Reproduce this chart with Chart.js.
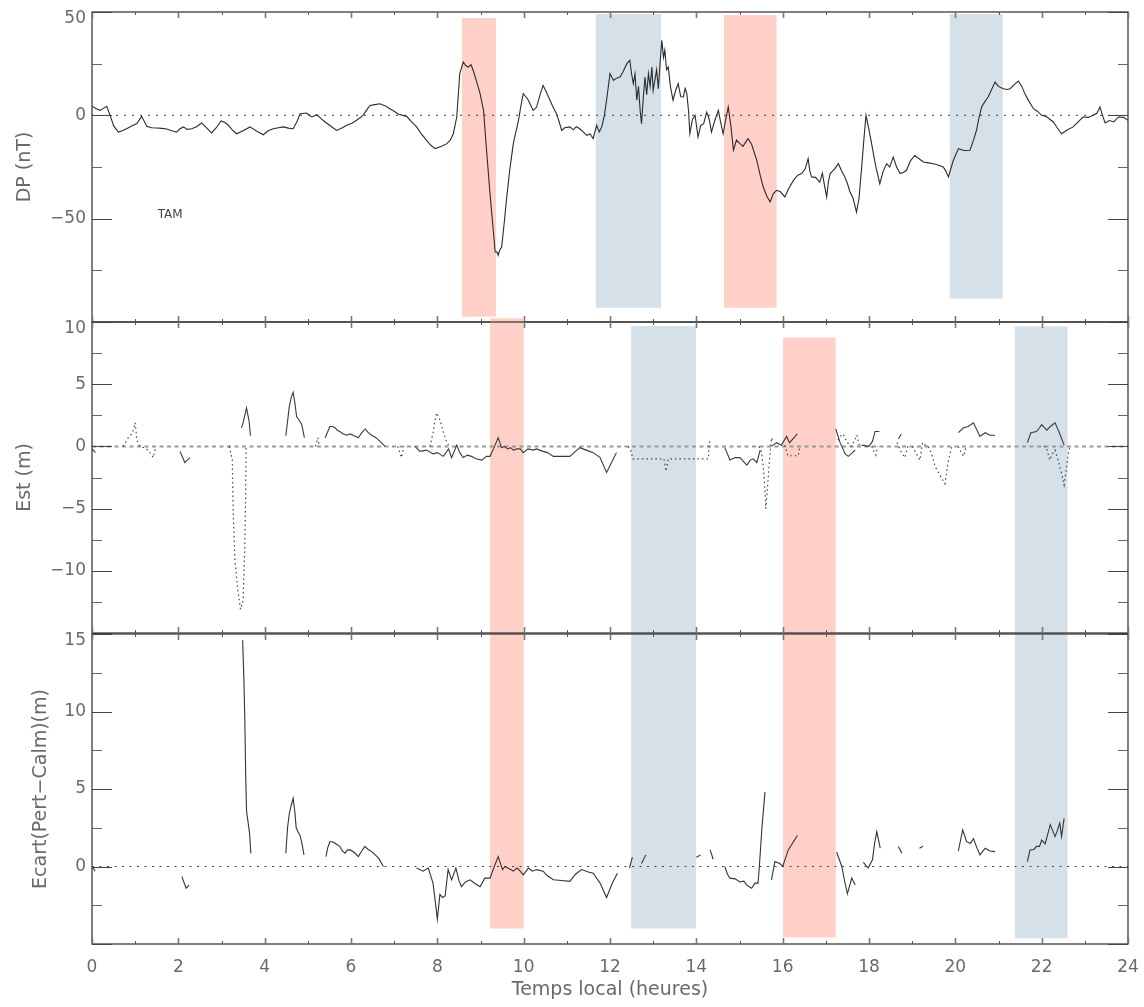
<!DOCTYPE html>
<html>
<head>
<meta charset="utf-8">
<script src="https://cdn.jsdelivr.net/npm/chart.js@4/dist/chart.umd.min.js"></script>
<style>
  html, body { margin: 0; padding: 0; background: #fff; }
  #wrap { position: relative; width: 1144px; height: 1007px; }
  #wrap canvas { position: absolute; left: 0; top: 0; }
</style>
</head>
<body>
<div id="wrap">
  <canvas id="dp" width="1144" height="1007"></canvas>
  <canvas id="est" width="1144" height="1007"></canvas>
  <canvas id="ecart" width="1144" height="1007"></canvas>
</div>
<script>
// ---- data (hours, value); null = gap in the record ----
const dpSeries = [
  [0,4.4],[0.1,3.2],[0.19,2.4],[0.27,3.5],[0.34,4.4],[0.42,0],[0.5,-5],[0.61,-8.1],[0.7,-7.5],[0.8,-6.5],
  [0.92,-5.2],[1.04,-4.0],[1.15,-0.5],[1.27,-5.3],[1.38,-6],[1.5,-6.1],[1.62,-6.3],[1.73,-6.6],[1.85,-7.5],
  [1.96,-8.1],[2.04,-6.5],[2.12,-5.6],[2.2,-6.8],[2.31,-6.5],[2.42,-5.5],[2.54,-3.7],[2.65,-6],[2.77,-8.5],
  [2.88,-6],[2.99,-2.7],[3.08,-3.5],[3.16,-4.8],[3.25,-7],[3.35,-8.9],[3.5,-7.5],[3.66,-5.6],[3.8,-7.5],
  [3.97,-9.4],[4.08,-7.5],[4.2,-6.5],[4.32,-6],[4.43,-5.6],[4.55,-6.2],[4.66,-6.5],[4.75,-3],[4.82,0.8],
  [4.97,1.1],[5.09,-0.8],[5.21,0.3],[5.3,-1.5],[5.4,-3.2],[5.55,-5.5],[5.67,-7.3],[5.8,-6],[5.9,-4.8],
  [6.02,-3.8],[6.13,-2.4],[6.28,0],[6.36,2.5],[6.44,4.8],[6.55,5.2],[6.67,5.6],[6.8,4.5],[6.9,3.2],[7.0,2],
  [7.1,0.5],[7.29,-0.5],[7.4,-3],[7.52,-5.6],[7.63,-9],[7.75,-12.1],[7.85,-14.5],[7.95,-16.1],[8.1,-15],
  [8.22,-13.7],[8.3,-12],[8.37,-8.9],[8.45,-0.8],[8.52,20.2],[8.6,25.8],[8.66,24],[8.72,23.4],[8.78,24.5],
  [8.83,21.8],[8.9,17],[8.99,10.5],[9.07,2.4],[9.14,-16.9],[9.22,-37.9],[9.28,-52],[9.34,-66.1],[9.38,-66],
  [9.41,-67.7],[9.45,-65],[9.49,-63.7],[9.55,-52],[9.6,-41.1],[9.68,-26],[9.76,-13.7],[9.82,-8],[9.88,-2.4],
  [9.94,5],[9.99,10.5],[10.05,9],[10.11,7.3],[10.16,5],[10.22,2.4],[10.3,4.0],[10.38,10],[10.45,14.5],
  [10.53,11],[10.61,7.3],[10.68,4],[10.76,0.8],[10.82,-3],[10.88,-7.3],[10.95,-6],[11.07,-5.6],[11.15,-7],
  [11.22,-5.5],[11.3,-6.5],[11.38,-8],[11.46,-9.7],[11.54,-9],[11.61,-11.3],[11.69,-4.8],[11.75,-8],
  [11.81,-5.6],[11.87,0],[11.92,7.3],[12.0,20.2],[12.08,16.9],[12.15,18],[12.23,18.5],[12.3,21],[12.39,25.0],
  [12.46,26.6],[12.5,20],[12.54,15.3],[12.58,20],[12.62,7.3],[12.66,14],[12.7,2],[12.73,-4.0],[12.77,8],
  [12.81,18.5],[12.85,10],[12.89,20.2],[12.93,14],[12.97,23.4],[13.0,12],[13.04,17.0],[13.08,22],[13.12,12.9],
  [13.16,25],[13.2,36.3],[13.24,28],[13.27,31.5],[13.31,22],[13.35,23.4],[13.4,14],[13.46,7.3],[13.52,12],
  [13.58,15.3],[13.64,9],[13.7,8.9],[13.74,13],[13.78,10.5],[13.82,2],[13.85,-8.9],[13.91,-2],[13.97,0],
  [14.04,-10.5],[14.1,-5],[14.17,-4],[14.24,1.6],[14.3,-2],[14.35,-8.1],[14.42,-3],[14.51,2.4],[14.56,-3],
  [14.62,-8.9],[14.68,-2],[14.74,4.0],[14.8,-5],[14.86,-16.9],[14.93,-12],[15.01,-13.7],[15.08,-15],
  [15.17,-12.1],[15.2,-11.3],[15.28,-14],[15.4,-21.8],[15.48,-29],[15.55,-34.7],[15.63,-39],[15.71,-41.9],
  [15.78,-38],[15.86,-36.3],[15.95,-37],[16.05,-39.5],[16.15,-35],[16.25,-31.5],[16.35,-29],[16.44,-28.2],
  [16.52,-26],[16.59,-21.0],[16.63,-27],[16.67,-29.8],[16.76,-30],[16.86,-32.3],[16.92,-28],[16.97,-34],
  [17.02,-39.5],[17.06,-32],[17.1,-28.2],[17.2,-26],[17.29,-23.4],[17.37,-27],[17.44,-29.8],[17.5,-33],
  [17.56,-37.1],[17.63,-40],[17.71,-46.8],[17.77,-40],[17.83,-25.0],[17.88,-12],[17.93,0],[18.0,-7],
  [18.06,-13.7],[18.15,-24],[18.25,-33.1],[18.33,-27],[18.41,-23.4],[18.48,-25],[18.56,-20.2],[18.64,-25],
  [18.72,-28.2],[18.8,-27.5],[18.87,-26.6],[18.96,-22],[19.06,-19.4],[19.16,-21],[19.26,-22.6],[19.38,-23],
  [19.49,-23.4],[19.6,-24],[19.72,-25.0],[19.78,-27],[19.84,-29.8],[19.95,-22],[20.07,-16.1],[20.2,-17],
  [20.34,-16.9],[20.42,-12],[20.49,-7.3],[20.55,-1],[20.61,4.0],[20.68,6.5],[20.76,8.9],[20.84,12.5],
  [20.92,16.1],[21.0,14],[21.11,12.9],[21.2,12.5],[21.27,12.9],[21.37,15],[21.46,16.6],[21.54,14],
  [21.61,10.5],[21.7,7],[21.81,3.2],[21.9,2],[22.0,0],[22.1,-0.5],[22.27,-3.2],[22.36,-6],[22.46,-8.9],
  [22.6,-7],[22.73,-5.6],[22.85,-3],[22.96,-0.8],[23.08,-1],[23.19,0],[23.28,1],[23.35,4.0],[23.41,0],
  [23.47,-3.7],[23.57,-2.5],[23.67,-3.2],[23.78,-0.8],[23.9,-1],[24.0,-2.4]
];

const estPert = [
  [0,-0.2],[0.08,-0.5], null,
  [2.04,-0.4],[2.15,-1.3],[2.27,-0.9], null,
  [3.46,1.5],[3.49,1.75],[3.58,3.1],[3.64,2.0],[3.67,0.86], null,
  [4.49,0.86],[4.53,2.0],[4.57,3.2],[4.62,4.0],[4.66,4.35],[4.7,3.5],[4.74,2.4],[4.8,2.1],[4.86,1.75],[4.92,0.7], null,
  [5.4,0.7],[5.45,1.1],[5.51,1.6],[5.57,1.6],[5.63,1.5],[5.68,1.3],[5.74,1.2],[5.82,1.0],[5.9,0.9],[5.98,1.0],
  [6.05,0.9],[6.17,0.7],[6.25,1.1],[6.33,1.4],[6.4,1.1],[6.48,0.9],[6.58,0.7],[6.67,0.4],[6.79,0], null,
  [7.48,0],[7.6,-0.4],[7.75,-0.3],[7.9,-0.6],[8.0,-0.5],[8.14,-0.8],[8.26,-0.2],[8.33,-0.9],[8.45,0.1],
  [8.52,-0.5],[8.6,-0.9],[8.7,-0.7],[8.79,-0.8],[8.9,-1.0],[9.03,-1.1],[9.14,-0.8],[9.22,-0.8],[9.3,-0.2],
  [9.41,0.7],[9.49,-0.1],[9.55,0.0],[9.63,-0.2],[9.7,-0.1],[9.76,-0.3],[9.85,-0.2],[9.92,-0.2],[9.99,-0.5],
  [10.1,-0.2],[10.22,-0.3],[10.3,-0.2],[10.45,-0.4],[10.55,-0.5],[10.69,-0.8],[10.9,-0.8],[11.07,-0.8],
  [11.2,-0.4],[11.3,-0.1],[11.45,-0.3],[11.61,-0.5],[11.77,-0.9],[11.92,-2.1],[12.05,-1.2],[12.15,-0.5], null,
  [14.66,-0.1],[14.78,-1.1],[14.9,-0.9],[15.01,-0.9],[15.17,-1.5],[15.25,-1.1],[15.32,-1.0],[15.4,-1.3],[15.48,-0.3], null,
  [15.74,0],[15.86,0.3],[15.97,0.1],[16.09,0.8],[16.16,0.3],[16.34,1.0], null,
  [17.23,1.4],[17.33,0.3],[17.45,-0.6],[17.52,-0.8],[17.68,-0.3], null,
  [17.83,0.1],[18.0,0],[18.08,0.4],[18.14,1.2],[18.24,1.2], null,
  [18.68,0.6],[18.75,1.0], null,
  [20.07,1.1],[20.19,1.5],[20.3,1.6],[20.42,1.9],[20.57,0.8],[20.69,1.1],[20.8,0.9],[20.92,0.9], null,
  [21.67,0.3],[21.75,1.1],[21.88,1.2],[21.95,1.5],[22.0,1.75],[22.12,1.3],[22.2,1.6],[22.31,1.9],[22.41,1.1],[22.52,0.1]
];

const estCalm = [
  [0.72,0],[0.84,0.7],[0.92,1.0],[0.96,1.35],[1.0,1.9],[1.04,0.5],[1.11,0],[1.2,-0.1],[1.3,-0.3],[1.42,-0.9],[1.48,0], null,
  [3.18,0],[3.25,-1.1],[3.27,-5.1],[3.31,-9.1],[3.37,-11.3],[3.44,-13.1],[3.5,-12.4],[3.54,-7.8],[3.56,-3.8],[3.57,0], null,
  [5.18,0],[5.23,0.7],[5.27,0], null,
  [7.08,0],[7.17,-0.9],[7.22,0], null,
  [7.83,0],[7.9,1.1],[7.94,2.0],[7.98,2.7],[8.06,2.15],[8.14,1.15],[8.22,0.3],[8.28,0], null,
  [12.42,0],[12.48,-0.3],[12.53,-1.0],[13.25,-1.0],[13.3,-2.0],[13.35,-1.0],[14.28,-1.0],[14.3,0.3],[14.35,0.6], null,
  [15.45,0],[15.5,-0.3],[15.55,-1.6],[15.59,-3.5],[15.61,-5.0],[15.65,-3.2],[15.69,-1.3],[15.74,0.7],[15.78,0.4], null,
  [16.05,0.1],[16.12,-0.75],[16.36,-0.75],[16.4,0], null,
  [17.28,0.5],[17.33,0.8],[17.4,1.0],[17.5,0.3],[17.6,0],[17.72,0.9],[17.78,0], null,
  [18.06,0],[18.16,-0.7],[18.2,0], null,
  [18.65,0.3],[18.72,-0.3],[18.83,-0.9],[18.9,0], null,
  [19.0,0],[19.1,-0.6],[19.18,-1.1],[19.24,0.3],[19.3,0.1],[19.37,0],[19.45,-0.6],[19.53,-1.6],[19.64,-2.3],
  [19.76,-3.0],[19.84,-1.1],[19.92,0], null,
  [20.07,0],[20.11,-0.3],[20.19,-0.8],[20.25,0], null,
  [22.05,0],[22.11,-0.1],[22.19,-1.1],[22.25,-0.6],[22.31,-0.3],[22.38,-1.1],[22.46,-2.15],[22.52,-3.1],
  [22.57,-1.9],[22.63,-0.3],[22.66,0]
];

const ecart = [
  [0.02,-0.05],[0.07,-0.3], null,
  [2.08,-0.64],[2.18,-1.4],[2.25,-1.2], null,
  [3.49,14.6],[3.52,12],[3.54,9.4],[3.56,6],[3.58,3.6],[3.65,2.15],[3.68,0.86], null,
  [4.49,0.86],[4.53,2.5],[4.57,3.4],[4.62,4.0],[4.66,4.4],[4.7,3.5],[4.73,2.5],[4.78,2.2],[4.82,2.0],[4.87,1.4],[4.91,0.75], null,
  [5.42,0.64],[5.46,1.2],[5.51,1.6],[5.57,1.6],[5.63,1.5],[5.68,1.4],[5.74,1.3],[5.8,1.0],[5.86,0.86],[5.92,1.07],
  [5.98,1.07],[6.08,0.9],[6.17,0.64],[6.25,1.0],[6.32,1.3],[6.4,1.1],[6.48,0.96],[6.56,0.75],[6.64,0.54],[6.75,0], null,
  [7.52,-0.1],[7.67,-0.3],[7.79,-0.1],[7.9,-1.07],[7.95,-2.2],[8.0,-3.4],[8.06,-1.8],[8.12,-2.0],[8.18,-1.9],
  [8.25,-0.2],[8.33,-0.86],[8.43,-0.1],[8.5,-0.9],[8.56,-1.3],[8.65,-1.0],[8.76,-0.86],[8.87,-1.1],[8.99,-1.3],
  [9.1,-0.75],[9.22,-0.75],[9.32,0],[9.41,0.64],[9.51,-0.2],[9.57,0],[9.63,-0.1],[9.7,-0.2],[9.76,-0.3],
  [9.85,-0.1],[9.92,-0.3],[9.99,-0.54],[10.11,-0.1],[10.2,-0.3],[10.3,-0.2],[10.45,-0.3],[10.55,-0.6],
  [10.69,-0.86],[10.88,-0.9],[11.07,-0.96],[11.2,-0.5],[11.34,-0.2],[11.5,-0.35],[11.61,-0.43],[11.77,-1.07],
  [11.92,-2.0],[12.05,-1.1],[12.17,-0.43], null,
  [12.45,-0.1],[12.52,0.6], null,
  [12.73,0.2],[12.83,0.75], null,
  [14.0,0.6],[14.1,0.75], null,
  [14.32,1.07],[14.39,0.47], null,
  [14.66,0],[14.72,-0.5],[14.78,-0.75],[14.9,-0.8],[15.01,-1.0],[15.1,-0.95],[15.17,-1.2],[15.28,-1.4],
  [15.36,-1.07],[15.43,-1.07],[15.46,0],[15.52,2.5],[15.59,4.8], null,
  [15.74,-0.86],[15.82,0.32],[15.93,0.2],[16.0,0],[16.13,1.07],[16.25,1.6],[16.34,2.0], null,
  [17.25,0.92],[17.37,0],[17.44,-1.0],[17.5,-1.76],[17.6,-0.75],[17.68,-1.2], null,
  [17.87,0.26],[17.98,-0.1],[18.08,0.43],[18.13,1.5],[18.18,2.25],[18.26,1.18], null,
  [18.68,1.29],[18.76,0.86], null,
  [19.17,1.18],[19.25,1.3], null,
  [20.07,1.0],[20.17,2.36],[20.26,1.6],[20.35,1.5],[20.42,1.8],[20.5,1.2],[20.57,0.75],[20.69,1.18],[20.8,1.0],[20.92,0.96], null,
  [21.67,0.32],[21.73,1.07],[21.82,1.1],[21.88,1.3],[21.95,1.3],[22.0,1.7],[22.08,1.46],[22.2,2.7],[22.31,1.93],
  [22.36,2.3],[22.42,2.8],[22.46,1.93],[22.52,3.1]
];

// shaded intervals: [start h, end h, top, bottom]
const dpPink = [[8.57, 9.36, 47.1, -97.4], [14.64, 15.86, 48.5, -93.1]];
const dpBlue = [[11.67, 13.18, 49.0, -93.1], [19.87, 21.10, 49.0, -88.7]];
const estPink = [[9.22, 10.0, 10.3, -15], [16.01, 17.23, 8.76, -15]];
const estBlue = [[12.49, 13.99, 9.67, -15], [21.38, 22.60, 9.65, -15]];
const ecartPink = [[9.22, 10.0, 15, -4.0], [16.01, 17.23, 15, -4.57]];
const ecartBlue = [[12.49, 13.99, 15, -4.0], [21.38, 22.60, 15, -4.63]];

const hourTicks = [0, 2, 4, 6, 8, 10, 12, 14, 16, 18, 20, 22, 24];

// ---- look ----
const FONT = "'DejaVu Sans', sans-serif";
const TXT = "#6a6a6a";
const PINK = "rgb(255,208,200)";
const BLUE = "rgb(214,224,233)";
const W = 1144, H = 1007, RIGHT = 1128, LEFTW = 92;

const toPoints = (pairs) => {
  let last = 0;
  return pairs.map((p) => {
    if (!p) return { x: last, y: null };
    last = p[0];
    return { x: p[0], y: p[1] };
  });
};
const zero = [{ x: 0, y: 0 }, { x: 24, y: 0 }];
const fmt = (v) => (v < 0 ? "\u2212" + Math.abs(v) : String(v));

// bands, frame, inward ticks and small notes drawn through the chart's scales
const panelPlugin = {
  id: "panel",
  beforeDatasetsDraw(chart, args, opts) {
    const { ctx } = chart;
    const xs = chart.scales.x, ys = chart.scales.y;
    ctx.save();
    for (const [list, color] of [[opts.pink, PINK], [opts.blue, BLUE]]) {
      ctx.fillStyle = color;
      for (const [a, b, top, bot] of list) {
        const x0 = xs.getPixelForValue(a), x1 = xs.getPixelForValue(b);
        const y0 = ys.getPixelForValue(top), y1 = ys.getPixelForValue(bot);
        ctx.fillRect(x0, y0, x1 - x0, y1 - y0);
      }
    }
    ctx.restore();
  },
  afterDatasetsDraw(chart, args, opts) {
    const { ctx, chartArea: a } = chart;
    const xs = chart.scales.x, ys = chart.scales.y;
    ctx.save();
    ctx.strokeStyle = "#3c3c3c";
    ctx.lineWidth = 1.3;
    ctx.strokeRect(a.left, a.top, a.right - a.left, a.bottom - a.top);
    // hour ticks, top and bottom
    for (let h = 0; h <= 24; h++) {
      const x = Math.round(xs.getPixelForValue(h)) + 0.5;
      const len = h % 2 === 0 ? 6 : 3;
      ctx.strokeStyle = h % 2 === 0 ? "#777" : "#555";
      ctx.lineWidth = h % 2 === 0 ? 1.6 : 1;
      ctx.beginPath();
      ctx.moveTo(x, a.top); ctx.lineTo(x, a.top + len);
      ctx.moveTo(x, a.bottom); ctx.lineTo(x, a.bottom - len);
      ctx.stroke();
    }
    // value ticks, left and right
    const { min, max } = ys;
    const n = Math.round((max - min) / opts.minor);
    for (let i = 0; i <= n; i++) {
      const v = min + i * opts.minor;
      const y = Math.round(ys.getPixelForValue(v)) + 0.5;
      const major = i % 2 === 0;
      const len = major ? 20 : 10;
      ctx.strokeStyle = major ? "#444" : "#666";
      ctx.lineWidth = 1.2;
      ctx.beginPath();
      ctx.moveTo(a.left, y); ctx.lineTo(a.left + len, y);
      ctx.moveTo(a.right, y); ctx.lineTo(a.right - len, y);
      ctx.stroke();
    }
    // top value label sits just under the panel's upper edge
    ctx.fillStyle = TXT;
    ctx.font = "17px " + FONT;
    ctx.textAlign = "right";
    ctx.textBaseline = "middle";
    ctx.fillText(fmt(max), a.left - 6, ys.getPixelForValue(max) + 7);
    if (opts.note) {
      ctx.fillStyle = "#444";
      ctx.font = "12px " + FONT;
      ctx.textAlign = "center";
      ctx.fillText(opts.note.text, xs.getPixelForValue(opts.note.at[0]), ys.getPixelForValue(opts.note.at[1]));
    }
    ctx.restore();
  },
};

function makePanel(id, cfg) {
  const last = !!cfg.xTitle;
  return new Chart(document.getElementById(id), {
    type: "line",
    data: { datasets: cfg.datasets },
    options: {
      responsive: false,
      animation: false,
      events: [],
      layout: {
        padding: { top: cfg.top, bottom: last ? 0 : H - cfg.bottom, left: 0, right: W - RIGHT },
      },
      elements: { point: { radius: 0 }, line: { tension: 0 } },
      plugins: {
        legend: { display: false },
        tooltip: { enabled: false },
        panel: { pink: cfg.pink, blue: cfg.blue, minor: cfg.minor, note: cfg.note },
      },
      scales: {
        x: {
          type: "linear",
          min: 0,
          max: 24,
          display: last,
          grid: { display: false, drawTicks: false },
          border: { display: false },
          afterBuildTicks: (s) => { s.ticks = hourTicks.map((v) => ({ value: v })); },
          afterFit: (s) => {
            s.height = last ? H - cfg.bottom : 0;
            s.paddingLeft = 0;
            s.paddingRight = 0;
          },
          ticks: { color: TXT, font: { family: FONT, size: 17 }, padding: 13, maxRotation: 0 },
          title: {
            display: last,
            text: cfg.xTitle || "",
            color: TXT,
            font: { family: FONT, size: 19 },
            padding: { top: 0, bottom: 6 },
          },
        },
        y: {
          type: "linear",
          min: cfg.min,
          max: cfg.max,
          grid: { display: false, drawTicks: false },
          border: { display: false },
          afterFit: (s) => {
            s.width = LEFTW;
            s.paddingTop = 0;
            s.paddingBottom = 0;
          },
          ticks: {
            stepSize: cfg.minor * 2,
            color: TXT,
            font: { family: FONT, size: 17 },
            padding: 6,
            callback: (v) => (v === cfg.min || v === cfg.max ? "" : fmt(v)),
          },
          title: {
            display: true,
            text: cfg.yTitle,
            color: TXT,
            font: { family: FONT, size: 19 },
            padding: { top: cfg.titlePad, bottom: 0 },
          },
        },
      },
    },
    plugins: [panelPlugin],
  });
}

makePanel("dp", {
  top: 12, bottom: 322, min: -100, max: 50, minor: 25, titlePad: 14,
  yTitle: "DP (nT)", pink: dpPink, blue: dpBlue,
  note: { text: "TAM", at: [1.81, -48.4] },
  datasets: [
    { data: toPoints(dpSeries), borderColor: "#2b2b2b", borderWidth: 1.1 },
    { data: zero, borderColor: "#444", borderWidth: 1, borderDash: [2, 6] },
  ],
});

makePanel("est", {
  top: 322, bottom: 633, min: -15, max: 10, minor: 2.5, titlePad: 14,
  yTitle: "Est (m)", pink: estPink, blue: estBlue,
  datasets: [
    { data: toPoints(estPert), borderColor: "#3a3a3a", borderWidth: 1.1 },
    { data: toPoints(estCalm), borderColor: "#444", borderWidth: 1.2, borderDash: [1.5, 3] },
    { data: zero, borderColor: "#999", borderWidth: 2, borderDash: [4, 3.5] },
  ],
});

makePanel("ecart", {
  top: 634, bottom: 944, min: -5, max: 15, minor: 2.5, titlePad: 30,
  yTitle: "Ecart(Pert\u2212Calm)(m)", xTitle: "Temps local (heures)",
  pink: ecartPink, blue: ecartBlue,
  datasets: [
    { data: toPoints(ecart), borderColor: "#333", borderWidth: 1.1 },
    { data: zero, borderColor: "#444", borderWidth: 1, borderDash: [2, 5.5] },
  ],
});
</script>
</body>
</html>
